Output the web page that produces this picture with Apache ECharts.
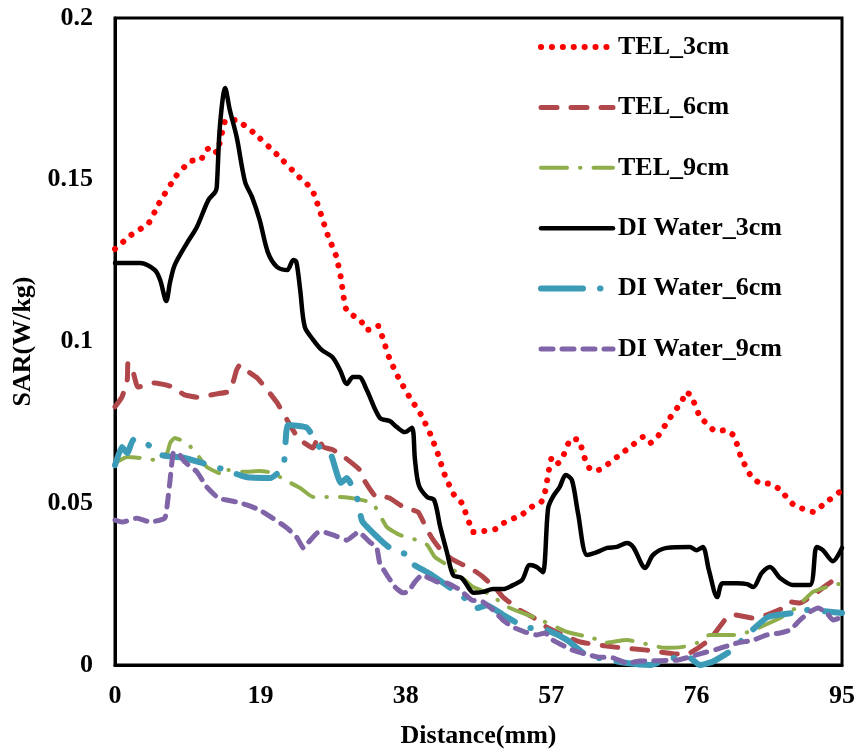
<!DOCTYPE html>
<html>
<head>
<meta charset="utf-8">
<script src="https://cdn.jsdelivr.net/npm/echarts@6/dist/echarts.min.js"></script>
<style>
  html, body { margin: 0; padding: 0; background: #fff; }
  #chart { width: 859px; height: 755px; }
</style>
</head>
<body>
<div id="chart"></div>
<script>
// tick labels of the distance axis
const xTicks = [0, 19, 38, 57, 76, 95]

// TEL_3cm (red dotted)
const tel3X = [0, 2.1, 4.4, 5.7, 8.0, 9.9, 11.2, 11.9, 12.7, 13.3, 14.4, 15.7, 18.0, 21.2, 24.2, 25.2, 26.0, 26.9, 27.8, 28.9, 29.5, 29.9, 30.2, 31.0, 32.1, 32.8, 33.6, 34.4, 34.9, 35.8, 37.0, 38.4, 40.0, 41.2, 42.2, 43.1, 44.3, 45.3, 46.3, 46.8, 48.2, 49.7, 50.8, 53.3, 54.4, 55.7, 56.2, 56.7, 57.0, 57.6, 58.4, 59.6, 60.6, 61.5, 62.2, 63.2, 65.6, 67.8, 69.0, 69.9, 70.8, 72.4, 74.1, 74.6, 75.3, 76.4, 78.5, 79.8, 80.9, 81.8, 83.1, 84.2, 85.6, 86.8, 88.7, 91.3, 92.5, 94.7, 95]
const tel3Y = [0.1286, 0.1329, 0.1366, 0.1425, 0.1512, 0.1558, 0.1561, 0.1592, 0.1601, 0.1583, 0.1682, 0.1685, 0.1648, 0.1577, 0.1505, 0.1484, 0.1456, 0.1394, 0.1329, 0.1264, 0.1199, 0.1134, 0.1100, 0.1082, 0.1066, 0.1036, 0.1036, 0.1048, 0.1017, 0.0952, 0.0890, 0.0832, 0.0773, 0.0714, 0.0652, 0.0587, 0.0526, 0.0501, 0.0439, 0.0411, 0.0414, 0.0420, 0.0439, 0.0467, 0.0488, 0.0504, 0.0535, 0.0603, 0.0637, 0.0618, 0.0637, 0.0699, 0.0696, 0.0631, 0.0603, 0.0603, 0.0643, 0.0683, 0.0705, 0.0686, 0.0702, 0.0760, 0.0816, 0.0844, 0.0832, 0.0770, 0.0723, 0.0726, 0.0708, 0.0643, 0.0584, 0.0563, 0.0560, 0.0544, 0.0495, 0.0473, 0.0495, 0.0535, 0.0538]

// TEL_6cm (brown dashed)
const tel6X = [0, 0.9, 1.6, 1.7, 2.4, 3.0, 5.2, 7.2, 9.1, 10.7, 13.3, 15.0, 15.9, 16.3, 16.7, 18.6, 19.9, 21.2, 22.5, 23.5, 24.6, 25.9, 26.5, 27.2, 28.5, 30.1, 32.0, 32.7, 34.2, 35.3, 35.9, 37.9, 39.6, 40.8, 41.6, 42.9, 44.2, 46.8, 48.1, 49.9, 50.7, 52.9, 54.6, 56.4, 58.5, 60.8, 65.1, 69.5, 73.4, 75.1, 77.1, 78.4, 80.0, 81.0, 83.4, 85.2, 87.3, 88.2, 89.5, 91.2, 93.0, 95]
const tel6Y = [0.0798, 0.0828, 0.0881, 0.0934, 0.0903, 0.0859, 0.0872, 0.0862, 0.0835, 0.0828, 0.0838, 0.0847, 0.0912, 0.0927, 0.0918, 0.0887, 0.0850, 0.0810, 0.0757, 0.0717, 0.0689, 0.0671, 0.0705, 0.0674, 0.0665, 0.0640, 0.0603, 0.0566, 0.0519, 0.0519, 0.0516, 0.0485, 0.0473, 0.0417, 0.0386, 0.0346, 0.0325, 0.0294, 0.0272, 0.0232, 0.0210, 0.0170, 0.0148, 0.0117, 0.0093, 0.0071, 0.0056, 0.0046, 0.0034, 0.0037, 0.0068, 0.0099, 0.0148, 0.0155, 0.0145, 0.0155, 0.0176, 0.0195, 0.0192, 0.0216, 0.0247, 0.0281]

// TEL_9cm (green dash-dot)
const tel9X = [0, 1.6, 3.3, 5.2, 6.8, 7.2, 7.8, 9.4, 10.7, 12.0, 14.4, 14.8, 16.9, 18.9, 20.6, 22.2, 24.2, 25.9, 29.4, 33.6, 35.5, 37.2, 39.5, 40.8, 41.8, 43.8, 45.3, 46.8, 48.6, 51.6, 55.1, 59.1, 62.5, 63.8, 66.9, 71.9, 74.2, 76.0, 77.7, 81.4, 83.4, 86.9, 89.1, 91.2, 93.0, 95]
const tel9Y = [0.0624, 0.0643, 0.0640, 0.0634, 0.0655, 0.0686, 0.0702, 0.0686, 0.0652, 0.0612, 0.0587, 0.0603, 0.0597, 0.0600, 0.0594, 0.0572, 0.0547, 0.0519, 0.0519, 0.0501, 0.0427, 0.0402, 0.0386, 0.0371, 0.0334, 0.0303, 0.0272, 0.0241, 0.0223, 0.0176, 0.0145, 0.0102, 0.0083, 0.0068, 0.0077, 0.0053, 0.0056, 0.0068, 0.0093, 0.0093, 0.0108, 0.0145, 0.0179, 0.0226, 0.0241, 0.0253]

// DI Water_3cm (black solid)
const di3X = [0, 3.3, 5.2, 5.9, 6.7, 7.2, 7.8, 9.4, 10.7, 12.2, 13.1, 13.3, 13.7, 14.4, 15.0, 15.9, 17.0, 17.9, 18.9, 20.0, 21.2, 22.5, 23.3, 23.7, 24.2, 24.8, 25.9, 27.0, 28.4, 29.4, 30.3, 31.1, 31.9, 32.9, 34.6, 35.9, 36.8, 37.9, 38.8, 39.2, 39.7, 40.8, 41.7, 42.5, 43.4, 44.2, 45.3, 46.4, 46.8, 48.1, 49.4, 50.7, 52.0, 53.2, 54.2, 55.1, 55.9, 56.6, 57.2, 58.1, 58.9, 59.7, 60.5, 61.7, 63.0, 64.3, 65.6, 66.9, 67.7, 69.3, 70.3, 72.1, 75.1, 76.0, 76.8, 77.6, 78.7, 79.4, 81.3, 82.6, 83.4, 84.5, 85.6, 86.9, 88.6, 90.8, 91.7, 92.5, 93.8, 95]
const di3Y = [0.1243, 0.1243, 0.1221, 0.1190, 0.1125, 0.1184, 0.1236, 0.1304, 0.1354, 0.1437, 0.1462, 0.1478, 0.1663, 0.1784, 0.1716, 0.1632, 0.1493, 0.1447, 0.1376, 0.1274, 0.1230, 0.1221, 0.1252, 0.1246, 0.1159, 0.1045, 0.1005, 0.0974, 0.0952, 0.0912, 0.0869, 0.0890, 0.0890, 0.0850, 0.0764, 0.0754, 0.0736, 0.0720, 0.0733, 0.0634, 0.0556, 0.0519, 0.0510, 0.0427, 0.0346, 0.0278, 0.0269, 0.0232, 0.0223, 0.0226, 0.0235, 0.0235, 0.0247, 0.0263, 0.0309, 0.0303, 0.0287, 0.0485, 0.0519, 0.0550, 0.0587, 0.0572, 0.0470, 0.0340, 0.0349, 0.0362, 0.0365, 0.0377, 0.0365, 0.0300, 0.0340, 0.0362, 0.0365, 0.0355, 0.0365, 0.0294, 0.0210, 0.0253, 0.0253, 0.0250, 0.0241, 0.0284, 0.0303, 0.0269, 0.0247, 0.0247, 0.0365, 0.0355, 0.0321, 0.0362]

// DI Water_6cm (aqua long dash-dot)
const di6X = [0, 0.9, 1.6, 2.4, 3.7, 6.1, 9.1, 11.5, 14.4, 17.1, 20.3, 22.0, 22.6, 25.1, 26.7, 28.1, 29.5, 30.3, 31.6, 32.3, 34.4, 35.9, 38.2, 38.5, 41.2, 46.4, 47.3, 48.6, 50.7, 53.6, 56.4, 59.1, 61.2, 62.5, 66.9, 69.9, 72.9, 75.1, 76.4, 78.0, 80.6, 83.0, 85.3, 88.6, 90.4, 93.7, 95]
const di6Y = [0.0618, 0.0674, 0.0655, 0.0696, 0.0692, 0.0649, 0.0640, 0.0624, 0.0603, 0.0581, 0.0578, 0.0612, 0.0742, 0.0733, 0.0674, 0.0658, 0.0563, 0.0578, 0.0519, 0.0445, 0.0393, 0.0362, 0.0340, 0.0318, 0.0281, 0.0195, 0.0176, 0.0185, 0.0155, 0.0117, 0.0108, 0.0077, 0.0037, 0.0025, 0.0006, 0.0000, 0.0022, 0.0022, 0.0000, 0.0009, 0.0046, 0.0102, 0.0148, 0.0161, 0.0170, 0.0164, 0.0161]

// DI Water_9cm (purple dashed)
const di9X = [0, 1.0, 2.9, 4.6, 6.5, 6.9, 7.2, 7.6, 8.1, 9.1, 10.7, 12.0, 13.5, 14.6, 15.9, 17.2, 18.9, 20.6, 22.5, 23.8, 24.6, 25.2, 26.4, 27.2, 28.5, 30.3, 31.8, 33.3, 34.2, 34.6, 35.7, 36.6, 37.6, 38.3, 39.2, 40.1, 42.1, 43.4, 45.1, 46.6, 48.1, 49.4, 50.7, 52.0, 53.6, 55.1, 56.2, 57.2, 59.8, 63.0, 65.1, 66.9, 68.6, 73.4, 75.1, 76.8, 78.7, 81.3, 83.4, 85.2, 86.9, 88.2, 89.5, 90.8, 91.9, 93.0, 93.8, 95]
const di9Y = [0.0448, 0.0442, 0.0454, 0.0442, 0.0454, 0.0510, 0.0572, 0.0655, 0.0658, 0.0628, 0.0597, 0.0550, 0.0516, 0.0510, 0.0504, 0.0495, 0.0479, 0.0454, 0.0423, 0.0393, 0.0362, 0.0377, 0.0408, 0.0411, 0.0402, 0.0386, 0.0411, 0.0380, 0.0362, 0.0315, 0.0272, 0.0241, 0.0223, 0.0226, 0.0257, 0.0278, 0.0257, 0.0253, 0.0232, 0.0201, 0.0195, 0.0170, 0.0139, 0.0117, 0.0102, 0.0093, 0.0099, 0.0077, 0.0046, 0.0025, 0.0022, 0.0006, 0.0012, 0.0015, 0.0025, 0.0037, 0.0049, 0.0068, 0.0077, 0.0093, 0.0099, 0.0108, 0.0139, 0.0164, 0.0176, 0.0161, 0.0139, 0.0148]

const zip = (xs, ys) => xs.map((x, i) => [x, ys[i]])

const font = 'Liberation Serif, Times New Roman, serif'

const mkSeries = (name, xs, ys, color, width, dash, smooth) => ({
  name,
  type: 'line',
  data: zip(xs, ys),
  symbol: 'none',
  smooth,
  lineStyle: { color, width, type: dash, cap: 'round', join: 'round' },
  itemStyle: { color },
})

const chart = echarts.init(document.getElementById('chart'), null, { renderer: 'canvas' })

chart.setOption({
  backgroundColor: '#fff',
  animation: false,
  grid: {
    left: 115,
    right: 17,
    top: 18,
    bottom: 90,
    show: true,
    borderColor: '#000',
    borderWidth: 3,
  },
  legend: {
    orient: 'vertical',
    left: 533,
    top: 29,
    itemWidth: 72,
    itemHeight: 25,
    itemGap: 34.4,
    itemStyle: { opacity: 0 },
    lineStyle: { width: 'inherit' },
    textStyle: { fontFamily: font, fontWeight: 'bold', fontSize: 26, color: '#000' },
  },
  xAxis: {
    type: 'value',
    min: 0,
    max: 95,
    interval: 19,
    name: 'Distance(mm)',
    nameLocation: 'middle',
    nameGap: 58,
    nameTextStyle: { fontFamily: font, fontWeight: 'bold', fontSize: 26, color: '#000' },
    axisLine: { lineStyle: { color: '#000', width: 3 } },
    axisTick: { show: false },
    splitLine: { show: false },
    axisLabel: {
      margin: 18,
      fontFamily: font,
      fontWeight: 'bold',
      fontSize: 26,
      color: '#000',
      formatter: (v) => (xTicks.includes(v) ? String(v) : ''),
    },
  },
  yAxis: {
    type: 'value',
    min: 0,
    max: 0.2,
    interval: 0.05,
    name: 'SAR(W/kg)',
    nameLocation: 'middle',
    nameGap: 75,
    nameTextStyle: { fontFamily: font, fontWeight: 'bold', fontSize: 26, color: '#000' },
    axisLine: { show: true, lineStyle: { color: '#000', width: 3 } },
    axisTick: { show: false },
    splitLine: { show: false },
    axisLabel: {
      margin: 22,
      fontFamily: font,
      fontWeight: 'bold',
      fontSize: 26,
      color: '#000',
      formatter: (v) => String(+v.toFixed(2)),
    },
  },
  series: [
    mkSeries('TEL_3cm', tel3X, tel3Y, '#ff0000', 6, [0.1, 10.8], 0.15),
    mkSeries('TEL_6cm', tel6X, tel6Y, '#b0474a', 5, [16, 14], 0.15),
    mkSeries('TEL_9cm', tel9X, tel9Y, '#8fae4b', 4, [26, 13, 0.5, 13], 0.15),
    mkSeries('DI Water_3cm', di3X, di3Y, '#000000', 4.5, 'solid', 0.3),
    mkSeries('DI Water_6cm', di6X, di6Y, '#3c9bb6', 6, [42, 17, 0.5, 17], 0.15),
    mkSeries('DI Water_9cm', di9X, di9Y, '#8064a8', 5, [12, 9], 0.15),
  ],
})
</script>
</body>
</html>
